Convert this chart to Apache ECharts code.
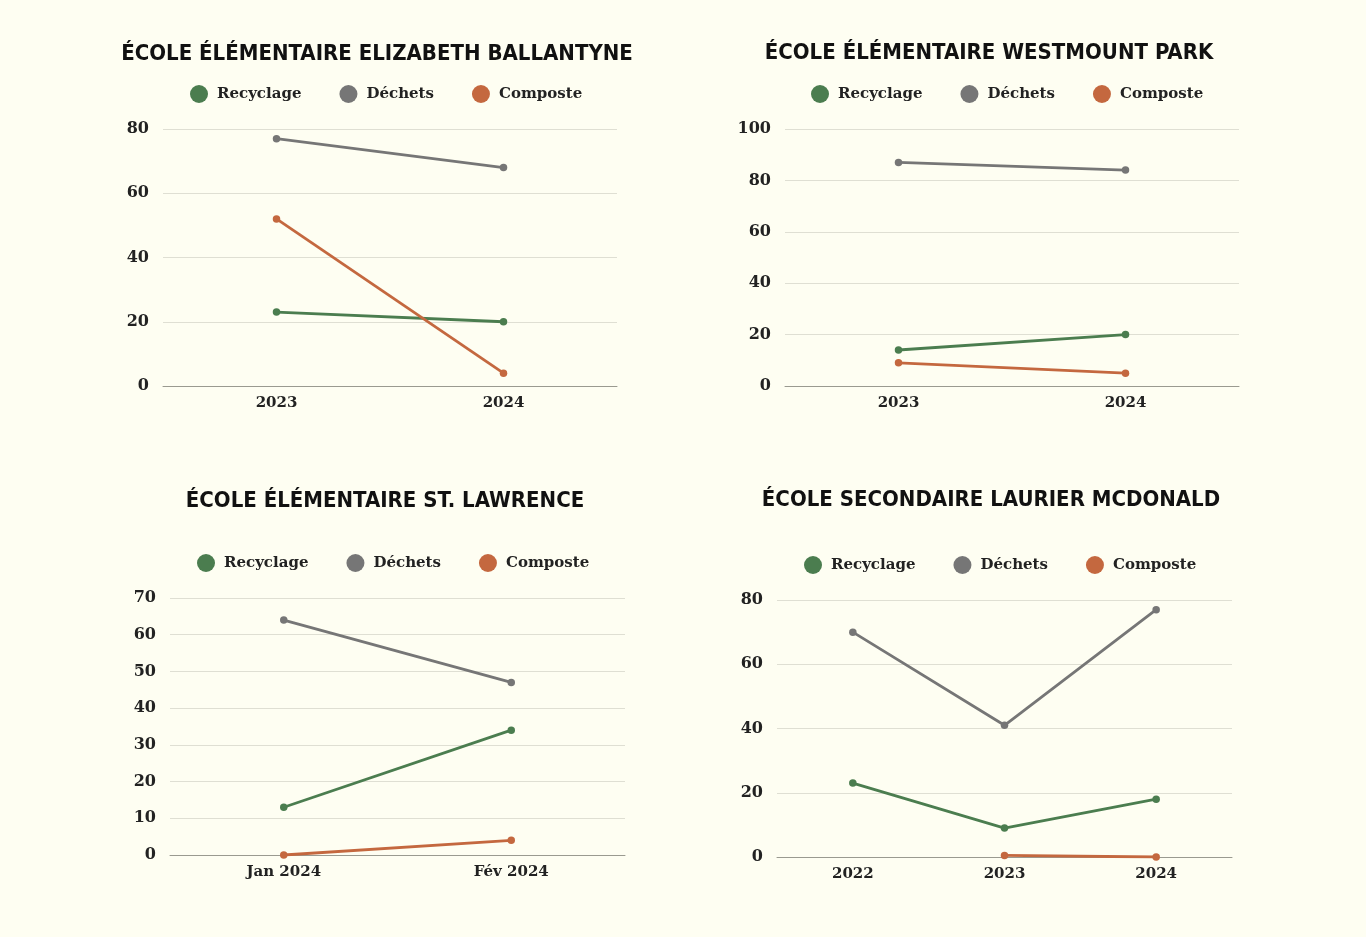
<!DOCTYPE html>
<html><head><meta charset="utf-8">
<script src="https://cdn.jsdelivr.net/npm/echarts@6/dist/echarts.min.js"></script>
<style>html,body{margin:0;padding:0;background:#fefef2;}#c{width:1366px;height:937px;}</style>
</head><body><div id="c"></div>
<script>
const seriesNames = ['Recyclage', 'Déchets', 'Composte'];
const titles = ['ÉCOLE ÉLÉMENTAIRE ELIZABETH BALLANTYNE', 'ÉCOLE ÉLÉMENTAIRE WESTMOUNT PARK', 'ÉCOLE ÉLÉMENTAIRE ST. LAWRENCE', 'ÉCOLE SECONDAIRE LAURIER MCDONALD'];
const cats1 = ['2023', '2024'];
const cats2 = ['2023', '2024'];
const cats3 = ['Jan 2024', 'Fév 2024'];
const cats4 = ['2022', '2023', '2024'];
const recyclage1 = [23, 20];
const dechets1 = [77, 68];
const composte1 = [52, 4];
const recyclage2 = [14, 20];
const dechets2 = [87, 84];
const composte2 = [9, 5];
const recyclage3 = [13, 34];
const dechets3 = [64, 47];
const composte3 = [0, 4];
const recyclage4 = [23, 9, 18];
const dechets4 = [70, 41, 77];
const composte4 = [null, 0.5, 0];
const yMax = [80, 100, 70, 80];
const yInterval = [20, 20, 10, 20];

const colors = ['#4b7d4f', '#767676', '#c4683f'];
const serifFont = 'DejaVu Serif';
const layout = [
  {tx: 377, ty: 43, lx: 190, ly: 85, grid: {left: 163, width: 454, top: 129, height: 257}},
  {tx: 989, ty: 42, lx: 811, ly: 85, grid: {left: 785, width: 454, top: 129, height: 257}},
  {tx: 385, ty: 490, lx: 197, ly: 554, grid: {left: 170, width: 455, top: 598, height: 257}},
  {tx: 991, ty: 489, lx: 804, ly: 556, grid: {left: 777, width: 455, top: 600, height: 257}}
];
const cats = [cats1, cats2, cats3, cats4];
const data = [
  [recyclage1, dechets1, composte1],
  [recyclage2, dechets2, composte2],
  [recyclage3, dechets3, composte3],
  [recyclage4, dechets4, composte4]
];

const option = {
  backgroundColor: '#fefef2',
  animation: false,
  color: colors,
  title: layout.map((l, i) => ({
    text: titles[i], left: l.tx, top: l.ty, textAlign: 'center', padding: 0,
    textStyle: {fontFamily: 'DejaVu Sans Condensed', fontWeight: 'bold', fontSize: 22, color: '#111'}
  })),
  legend: layout.map((l, i) => ({
    data: seriesNames, left: l.lx, top: l.ly, padding: 0, icon: 'circle',
    itemWidth: 18, itemHeight: 18, itemGap: 38,
    textStyle: {fontFamily: serifFont, fontWeight: 'bold', fontSize: 15, color: '#222', padding: [0, 0, 0, 4]}
  })),
  grid: layout.map(l => Object.assign({containLabel: false}, l.grid)),
  xAxis: layout.map((l, i) => ({
    type: 'category', gridIndex: i, data: cats[i], boundaryGap: true,
    axisLine: {lineStyle: {color: '#9a9a90', width: 1}}, axisTick: {show: false},
    axisLabel: {fontFamily: serifFont, fontWeight: 'bold', fontSize: 15, color: '#222', margin: 10}
  })),
  yAxis: layout.map((l, i) => ({
    type: 'value', gridIndex: i, min: 0, max: yMax[i], interval: yInterval[i],
    axisLine: {show: false}, axisTick: {show: false},
    splitLine: {lineStyle: {color: '#dfdfd3', width: 1}},
    axisLabel: {fontFamily: serifFont, fontWeight: 'bold', fontSize: 16, color: '#222', margin: 14}
  })),
  series: []
};
data.forEach((d, gi) => {
  d.forEach((vals, si) => {
    option.series.push({
      name: seriesNames[si], type: 'line', xAxisIndex: gi, yAxisIndex: gi,
      data: vals, symbol: 'circle', symbolSize: 7.5, showSymbol: true,
      lineStyle: {width: 2.8, color: colors[si]}, itemStyle: {color: colors[si]},
      connectNulls: false
    });
  });
});
const chart = echarts.init(document.getElementById('c'));
chart.setOption(option);
</script></body></html>
